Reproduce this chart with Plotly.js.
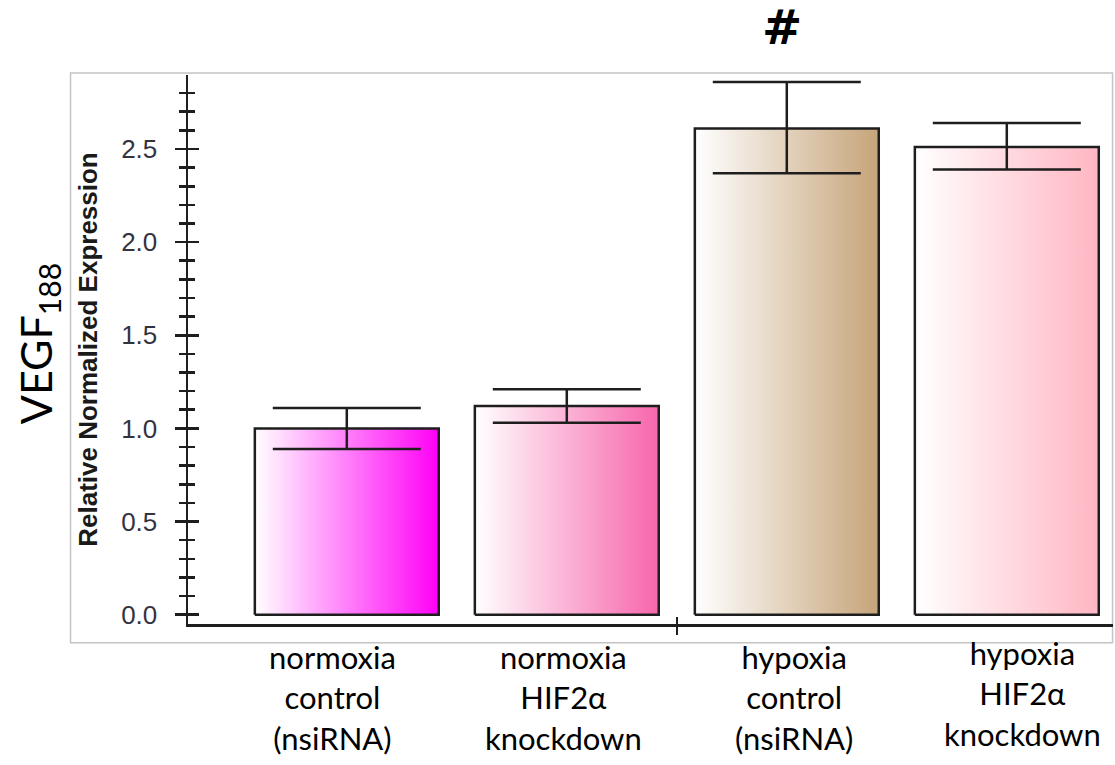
<!DOCTYPE html>
<html>
<head>
<meta charset="utf-8">
<script src="https://cdn.plot.ly/plotly-3.0.1.min.js"></script>
<style>
  html, body { margin: 0; padding: 0; background: #ffffff; }
  #chart { width: 1115px; height: 765px; }
</style>
</head>
<body>
<div id="chart"></div>
<script>
// Group labels (drawn under each bar)
const groups = [
  'normoxia<br>control<br>(nsiRNA)',
  'normoxia<br>HIF2α<br>knockdown',
  'hypoxia<br>control<br>(nsiRNA)',
  'hypoxia<br>HIF2α<br>knockdown'
];
// Relative normalized expression of VEGF188
const expression = [1.00, 1.12, 2.61, 2.51];
const errUpper = [0.11, 0.09, 0.25, 0.13];
const errLower = [0.11, 0.09, 0.24, 0.12];
// Right-hand colour of each bar's white-to-colour gradient
const barColors = ['#ff00f6', '#f766ac', '#c6a47a', '#ffb6c3'];
const yTicks = [0, 0.5, 1.0, 1.5, 2.0, 2.5];

const halfWidth = 0.418;
const pos = groups.map((_, i) => i);

const traces = [];
// Bars: outlined polygons with a horizontal gradient fill
pos.forEach((c, i) => {
  traces.push({
    type: 'scatter',
    mode: 'lines',
    x: [c - halfWidth, c - halfWidth, c + halfWidth, c + halfWidth, c - halfWidth],
    y: [0, expression[i], expression[i], 0, 0],
    fill: 'toself',
    fillgradient: {
      type: 'horizontal',
      colorscale: [[0, '#ffffff'], [1, barColors[i]]]
    },
    line: { color: '#1e1e1e', width: 2.5 },
    hoverinfo: 'skip',
    showlegend: false
  });
});
// Error bars, on the overlay axes (which also carry the inward tick marks)
traces.push({
  type: 'scatter',
  mode: 'markers',
  xaxis: 'x2',
  yaxis: 'y2',
  x: pos,
  y: expression,
  marker: { size: 1, color: 'rgba(0,0,0,0)' },
  error_y: {
    type: 'data',
    symmetric: false,
    array: errUpper,
    arrayminus: errLower,
    color: '#1e1e1e',
    thickness: 2.5,
    width: 74
  },
  showlegend: false
});

const xRange = [-0.7218, 3.4827];
const yRange = [-0.0499, 2.897];

const axisInk = '#1e1e1e';

const layout = {
  width: 1115,
  height: 765,
  margin: { l: 188, r: 2, t: 75, b: 141 },
  paper_bgcolor: '#ffffff',
  plot_bgcolor: 'rgba(0,0,0,0)',
  showlegend: false,
  xaxis: {
    range: xRange,
    tickvals: [1.5],
    showticklabels: false,
    ticks: 'outside',
    ticklen: 8,
    tickwidth: 2.5,
    tickcolor: axisInk,
    showline: true,
    linewidth: 2.5,
    linecolor: axisInk,
    showgrid: false,
    zeroline: false
  },
  xaxis2: {
    overlaying: 'x',
    anchor: 'y2',
    range: xRange,
    tickvals: [1.5],
    showticklabels: false,
    ticks: 'inside',
    ticklen: 7,
    tickwidth: 2.5,
    tickcolor: axisInk,
    showline: false,
    showgrid: false,
    zeroline: false
  },
  yaxis: {
    range: yRange,
    tickvals: yTicks,
    tickformat: '.1f',
    ticks: 'outside',
    ticklen: 11,
    tickwidth: 2.5,
    tickcolor: axisInk,
    ticklabelstandoff: 12,
    minor: { dtick: 0.1, tick0: 0, ticks: 'outside', ticklen: 7, tickwidth: 2.6, tickcolor: axisInk, showgrid: false },
    tickfont: { family: 'Liberation Sans, Arial, sans-serif', size: 26, color: '#33333f' },
    showline: true,
    linewidth: 2.5,
    linecolor: axisInk,
    showgrid: false,
    zeroline: false,
    title: {
      text: 'Relative Normalized Expression',
      font: { family: 'Liberation Sans, Arial, sans-serif', size: 26, color: '#1a1a1a', weight: 'bold' },
      standoff: 16
    }
  },
  yaxis2: {
    overlaying: 'y',
    anchor: 'x2',
    range: yRange,
    tickvals: yTicks,
    showticklabels: false,
    ticks: 'inside',
    ticklen: 11,
    tickwidth: 2.5,
    tickcolor: axisInk,
    minor: { dtick: 0.1, tick0: 0, ticks: 'inside', ticklen: 7, tickwidth: 2.6, tickcolor: axisInk, showgrid: false },
    showline: false,
    showgrid: false,
    zeroline: false
  },
  shapes: [
    // light frame around the plotting region
    {
      type: 'rect', xref: 'paper', yref: 'paper', layer: 'below',
      x0: -0.127, x1: 0.9995, y0: -0.034, y1: 1.0036,
      line: { color: '#c4c4c4', width: 1.5 }, fillcolor: 'rgba(0,0,0,0)'
    }
  ],
  annotations: [
    {
      text: 'VEGF<sub>188</sub>', textangle: -90,
      xref: 'paper', yref: 'paper', x: -0.162, y: 0.51,
      xanchor: 'center', yanchor: 'middle', showarrow: false,
      font: { family: 'Lato, Noto Sans, sans-serif', size: 43, color: '#000000' }
    },
    {
      text: '#', xref: 'x', yref: 'paper', x: 2, y: 1.0, yshift: 18,
      xanchor: 'center', yanchor: 'bottom', showarrow: false, xshift: -5,
      font: { family: 'DejaVu Sans, sans-serif', size: 48, color: '#000000', weight: 'bold' }
    }
  ].concat(groups.map((g, i) => ({
    text: g, xref: 'x', yref: 'paper', x: i, y: -0.022,
    xanchor: 'center', yanchor: 'top', showarrow: false,
    xshift: [-14, -3, 7, 16][i], yshift: i === 3 ? 4 : 0,
    font: { family: 'Lato, Noto Sans, sans-serif', size: 31, color: '#000000' }
  })))
};

Plotly.newPlot('chart', traces, layout, { staticPlot: true, displayModeBar: false });
</script>
</body>
</html>
